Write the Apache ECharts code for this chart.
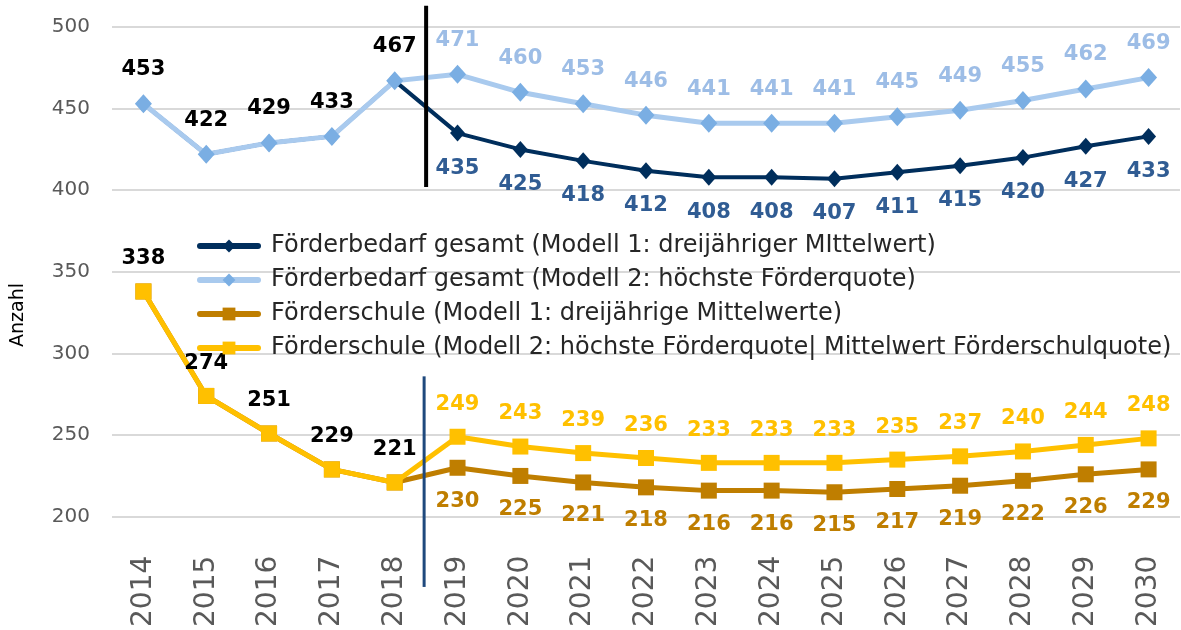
<!DOCTYPE html>
<html>
<head>
<meta charset="utf-8">
<script src="https://cdn.jsdelivr.net/npm/echarts@6/dist/echarts.min.js"></script>
<style>
  html, body { margin: 0; padding: 0; background: #fff; }
  #chart { width: 1181px; height: 630px; }
</style>
</head>
<body>
<div id="chart"></div>
<script>
var years = ['2014', '2015', '2016', '2017', '2018', '2019', '2020', '2021', '2022',
             '2023', '2024', '2025', '2026', '2027', '2028', '2029', '2030'];
var gesamtM1 = [453, 422, 429, 433, 467, 435, 425, 418, 412, 408, 408, 407, 411, 415, 420, 427, 433];
var gesamtM2 = [453, 422, 429, 433, 467, 471, 460, 453, 446, 441, 441, 441, 445, 449, 455, 462, 469];
var schuleM1 = [338, 274, 251, 229, 221, 230, 225, 221, 218, 216, 216, 215, 217, 219, 222, 226, 229];
var schuleM2 = [338, 274, 251, 229, 221, 249, 243, 239, 236, 233, 233, 233, 235, 237, 240, 244, 248];
var yTicks = [200, 250, 300, 350, 400, 450, 500];
var splitIdx = 5; // first forecast year

var FONT = 'DejaVu Sans';

// labels: history years black on top series, forecast years in series colour
function topData(vals, color) {
  return vals.map(function (v, i) {
    return {
      value: v,
      label: { show: true, color: i < splitIdx ? '#000' : color }
    };
  });
}
function bottomData(vals) {
  return vals.map(function (v, i) {
    return { value: v, label: { show: i >= splitIdx } };
  });
}

var labelBase = {
  fontFamily: FONT,
  fontWeight: 'bold',
  fontSize: 21
};

var chart = echarts.init(document.getElementById('chart'));

var option = {
  animation: false,
  grid: { left: 112, right: 1, top: 27, bottom: 111 },
  legend: {
    orient: 'vertical',
    left: 192,
    top: 229,
    itemWidth: 58,
    itemHeight: 16,
    itemGap: 10,
    lineStyle: { width: 6, cap: 'round' },
    textStyle: { fontFamily: FONT, fontSize: 24, color: '#262626', padding: [0, 0, 0, 8] },
    data: [
      'Förderbedarf gesamt (Modell 1: dreijähriger MIttelwert)',
      'Förderbedarf gesamt (Modell 2: höchste Förderquote)',
      'Förderschule (Modell 1: dreijährige Mittelwerte)',
      'Förderschule (Modell 2: höchste Förderquote| Mittelwert Förderschulquote)'
    ]
  },
  xAxis: {
    type: 'category',
    data: years,
    axisLine: { show: false },
    axisTick: { show: false },
    axisLabel: {
      rotate: 90,
      fontFamily: FONT,
      fontSize: 28,
      color: '#595959',
      margin: 39
    }
  },
  yAxis: {
    type: 'value',
    min: yTicks[0],
    max: yTicks[yTicks.length - 1],
    interval: 50,
    axisLine: { show: false },
    axisTick: { show: false },
    axisLabel: { fontFamily: FONT, fontSize: 20, color: '#595959', margin: 22 },
    splitLine: { lineStyle: { color: '#d9d9d9', width: 2 } }
  },
  series: [
    {
      name: 'Förderbedarf gesamt (Modell 1: dreijähriger MIttelwert)',
      type: 'line',
      data: bottomData(gesamtM1),
      symbol: 'diamond',
      symbolSize: [15, 17],
      color: '#002e5c',
      lineStyle: { width: 4, color: '#002e5c' },
      itemStyle: { color: '#002e5c' },
      label: Object.assign({ position: 'bottom', distance: 16, color: '#305c93' }, labelBase),
      z: 2
    },
    {
      name: 'Förderbedarf gesamt (Modell 2: höchste Förderquote)',
      type: 'line',
      data: topData(gesamtM2, '#9dbde6'),
      symbol: 'diamond',
      symbolSize: [17, 19],
      color: '#7aaee3',
      lineStyle: { width: 5, color: '#a9caee' },
      itemStyle: { color: '#7aaee3' },
      label: Object.assign({ position: 'top', distance: 14 }, labelBase),
      z: 3
    },
    {
      name: 'Förderschule (Modell 1: dreijährige Mittelwerte)',
      type: 'line',
      data: bottomData(schuleM1),
      symbol: 'rect',
      symbolSize: 16,
      color: '#bf7e00',
      lineStyle: { width: 5, color: '#bf7e00' },
      itemStyle: { color: '#bf7e00' },
      label: Object.assign({ position: 'bottom', distance: 15, color: '#bf7e00' }, labelBase),
      z: 2
    },
    {
      name: 'Förderschule (Modell 2: höchste Förderquote| Mittelwert Förderschulquote)',
      type: 'line',
      data: topData(schuleM2, '#ffc000'),
      symbol: 'rect',
      symbolSize: 16,
      color: '#ffc000',
      lineStyle: { width: 5, color: '#ffc000' },
      itemStyle: { color: '#ffc000' },
      label: Object.assign({ position: 'top', distance: 14 }, labelBase),
      z: 3
    }
  ]
};

chart.setOption(option);

// vertical separators between history and forecast, plus the axis title
function drawExtras() {
  var xa = chart.convertToPixel({ xAxisIndex: 0 }, splitIdx - 1);
  var xb = chart.convertToPixel({ xAxisIndex: 0 }, splitIdx);
  var x = (xa + xb) / 2;
  var yTop1 = chart.convertToPixel({ yAxisIndex: 0 }, 513);
  var yBot1 = chart.convertToPixel({ yAxisIndex: 0 }, 402);
  var yTop2 = chart.convertToPixel({ yAxisIndex: 0 }, 286);
  var yBot2 = chart.convertToPixel({ yAxisIndex: 0 }, 157);
  chart.setOption({
    graphic: [
      { type: 'line', shape: { x1: x, y1: yTop1, x2: x, y2: yBot1 },
        style: { stroke: '#000', lineWidth: 4 }, z: 10 },
      { type: 'line', shape: { x1: x - 2, y1: yTop2, x2: x - 2, y2: yBot2 },
        style: { stroke: '#1f497d', lineWidth: 3 }, z: 10 },
      { type: 'text', x: 18, y: 315, rotation: Math.PI / 2,
        style: { text: 'Anzahl', fill: '#000', font: '19px "DejaVu Sans"',
                 align: 'center', verticalAlign: 'middle' } }
    ]
  });
}
drawExtras();
</script>
</body>
</html>
